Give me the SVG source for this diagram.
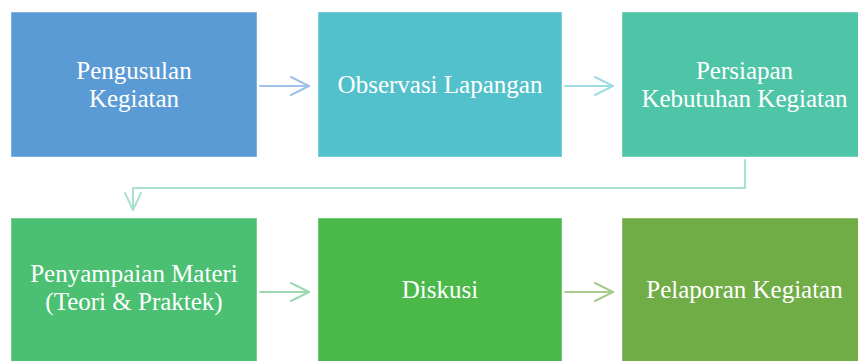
<svg xmlns="http://www.w3.org/2000/svg" width="858" height="361" viewBox="0 0 858 361">
<style>
.box{stroke:#ffffff;stroke-opacity:0.45;stroke-width:1}
.lbl{font-family:"Liberation Serif","Times New Roman",serif;font-size:25px;fill:#ffffff;text-anchor:middle}
.con{fill:none;stroke-width:2;stroke-linecap:round;stroke-linejoin:round}
</style>
<rect width="858" height="361" fill="#ffffff"/>
<g id="connectors">
<g stroke="#9fc2e6" class="con"><path d="M260 86 H309"/><path d="M291 77 L309 86 L291 95"/></g>
<g stroke="#9edde3" class="con"><path d="M565 86 H613"/><path d="M595 77 L613 86 L595 95"/></g>
<g stroke="#a8e2cb" class="con"><path d="M745 160 V188 H133 V210"/><path d="M125 193 L133 210 L141 193"/></g>
<g stroke="#9ed9b1" class="con"><path d="M260 292 H309"/><path d="M291 283 L309 292 L291 301"/></g>
<g stroke="#a9cb8f" class="con"><path d="M565 292 H613"/><path d="M595 283 L613 292 L595 301"/></g>
</g>
<g id="n1"><rect class="box" x="11" y="12" width="246" height="145" fill="#5b9bd5"/><text class="lbl" x="134" y="79">Pengusulan</text><text class="lbl" x="134" y="107">Kegiatan</text></g>
<g id="n2"><rect class="box" x="318" y="12" width="244" height="145" fill="#53c1cc"/><text class="lbl" x="440" y="93">Observasi Lapangan</text></g>
<g id="n3"><rect class="box" x="622" y="12" width="245" height="145" fill="#4fc5a7"/><text class="lbl" x="744.5" y="79">Persiapan</text><text class="lbl" x="744.5" y="107">Kebutuhan Kegiatan</text></g>
<g id="n4"><rect class="box" x="11" y="218" width="246" height="145" fill="#4bbf72"/><text class="lbl" x="134" y="282">Penyampaian Materi</text><text class="lbl" x="134" y="310">(Teori &amp; Praktek)</text></g>
<g id="n5"><rect class="box" x="318" y="218" width="244" height="145" fill="#4ab94a"/><text class="lbl" x="440" y="298">Diskusi</text></g>
<g id="n6"><rect class="box" x="622" y="218" width="245" height="145" fill="#70ad47"/><text class="lbl" x="744.5" y="298">Pelaporan Kegiatan</text></g>
</svg>
